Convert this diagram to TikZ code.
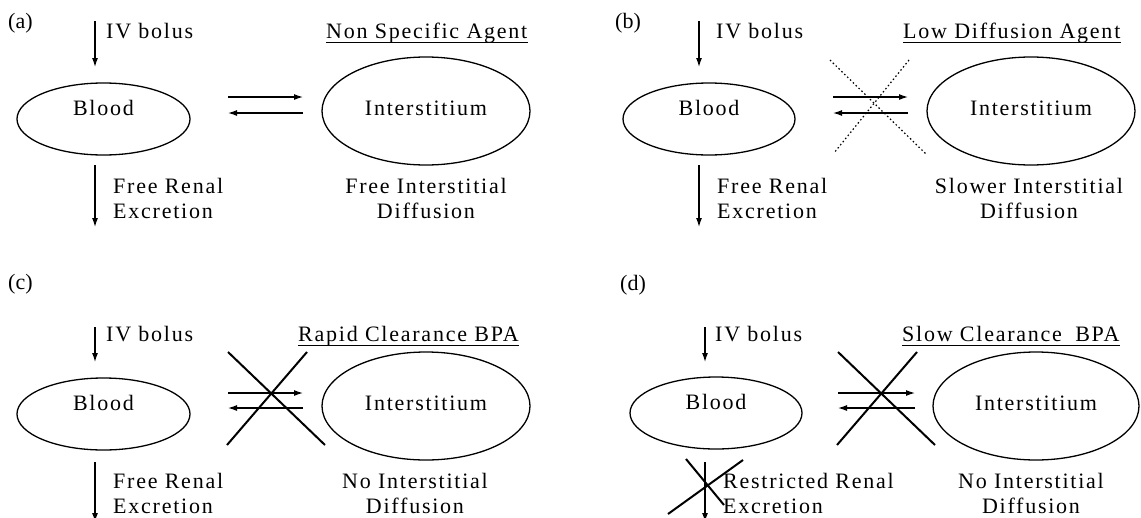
\documentclass[tikz,border=0pt]{standalone}
\usepackage{fontspec}
\setmainfont{Liberation Serif}[LetterSpace=8]
\newfontfamily\tagfont{Liberation Serif}
\usetikzlibrary{arrows.meta}
\usetikzlibrary{shapes}

\begin{document}
\begin{tikzpicture}[x = 1pt, y = -1pt]
\tikzstyle{PoolStyle}=[shape = ellipse,
                       draw,
                       line width = 1.3pt,
                       inner sep = 0pt,
                       text height = 15pt,
                       text depth = 7pt,
                       font = \fontsize{22}{25}\selectfont]
\tikzstyle{TextStyle}=[inner sep = 0pt,
                       font = \fontsize{22}{25}\selectfont]
\tikzstyle{HeadStyle}=[TextStyle, anchor = base west, text depth = 4pt]
\tikzstyle{TagStyle}=[inner sep = 0pt, anchor = base west,
                      font = \tagfont\fontsize{22}{25}\selectfont]
\tikzstyle{FlowStyle}=[line width = 1.2pt,
                       -{Latex[length = 9pt, width = 6pt]}]
\tikzstyle{BlockStyle}=[line width = 2pt]
\tikzstyle{DotStyle}=[line width = 1.2pt, dash pattern = on 1.5pt off 2.5pt]
\useasboundingbox (0,0) rectangle (1141,517);
% (a) non specific agent
\node[TagStyle] (ta) at (8,28) {(a)};
\node[PoolStyle, minimum width = 173pt, minimum height = 72pt, text depth = 23pt] (ba) at (103.5,119) {Blood};
\node[PoolStyle, minimum width = 208pt, minimum height = 108pt] (ia) at (426,111) {Interstitium};
\node[HeadStyle] (ha) at (326,38) {Non Specific Agent};
\draw[line width = 1pt] (ha.south west) -- (ha.south east);
\node[TextStyle, anchor = base west] (va) at (106,38) {IV bolus};
\node[TextStyle, anchor = north west, align = left] (ra) at (113,178) {Free Renal\\Excretion};
\node[TextStyle, anchor = north, align = center] (da) at (426,178) {Free Interstitial\\Diffusion};
\coordinate (pa1) at (95,21);
\coordinate (pa2) at (95,67);
\coordinate (qa1) at (95,165);
\coordinate (qa2) at (95,227);
\coordinate (fa1) at (228,97);
\coordinate (fa2) at (303,97);
\coordinate (ga1) at (303,113);
\coordinate (ga2) at (228,113);
\draw[FlowStyle] (pa1) -- (pa2);
\draw[FlowStyle] (qa1) -- (qa2);
\draw[FlowStyle] (fa1) -- (fa2);
\draw[FlowStyle] (ga1) -- (ga2);
% (b) low diffusion agent
\node[TagStyle] (tb) at (615,28) {(b)};
\node[PoolStyle, minimum width = 172pt, minimum height = 72pt, text depth = 23pt] (bb) at (709,119) {Blood};
\node[PoolStyle, minimum width = 208pt, minimum height = 108pt] (ib) at (1031,111) {Interstitium};
\node[HeadStyle] (hb) at (903,38) {Low Diffusion Agent};
\draw[line width = 1pt] (hb.south west) -- (hb.south east);
\node[TextStyle, anchor = base west] (vb) at (716,38) {IV bolus};
\node[TextStyle, anchor = north west, align = left] (rb) at (717,178) {Free Renal\\Excretion};
\node[TextStyle, anchor = north, align = center] (db) at (1029,178) {Slower Interstitial\\Diffusion};
\coordinate (pb1) at (699,21);
\coordinate (pb2) at (699,67);
\coordinate (qb1) at (699,165);
\coordinate (qb2) at (699,227);
\coordinate (fb1) at (833,97);
\coordinate (fb2) at (908,97);
\coordinate (gb1) at (908,113);
\coordinate (gb2) at (833,113);
\draw[FlowStyle] (pb1) -- (pb2);
\draw[FlowStyle] (qb1) -- (qb2);
\draw[FlowStyle] (fb1) -- (fb2);
\draw[FlowStyle] (gb1) -- (gb2);
\draw[DotStyle] (830,60) -- (927,155);
\draw[DotStyle] (909,60) -- (834,153);
% (c) rapid clearance
\node[TagStyle] (tc) at (8,289) {(c)};
\node[PoolStyle, minimum width = 173pt, minimum height = 72pt, text depth = 23pt] (bc) at (103.5,414) {Blood};
\node[PoolStyle, minimum width = 208pt, minimum height = 108pt] (ic) at (426,406) {Interstitium};
\node[HeadStyle] (hc) at (298,341) {Rapid Clearance BPA};
\draw[line width = 1pt] (hc.south west) -- (hc.south east);
\node[TextStyle, anchor = base west] (vc) at (106,341) {IV bolus};
\node[TextStyle, anchor = north west, align = left] (rc) at (113,473) {Free Renal\\Excretion};
\node[TextStyle, anchor = north, align = center] (dc) at (415,473) {No Interstitial\\Diffusion};
\coordinate (pc1) at (95,327);
\coordinate (pc2) at (95,362);
\coordinate (qc1) at (95,462);
\coordinate (qc2) at (95,522);
\coordinate (fc1) at (228,393);
\coordinate (fc2) at (303,393);
\coordinate (gc1) at (303,408);
\coordinate (gc2) at (228,408);
\draw[FlowStyle] (pc1) -- (pc2);
\draw[FlowStyle] (qc1) -- (qc2);
\draw[FlowStyle] (fc1) -- (fc2);
\draw[FlowStyle] (gc1) -- (gc2);
\draw[BlockStyle] (228,352) -- (325,445);
\draw[BlockStyle] (307,352) -- (227,445);
% (d) slow clearance
\node[TagStyle] (td) at (620,290) {(d)};
\node[PoolStyle, minimum width = 172pt, minimum height = 72pt, text depth = 23pt] (bd) at (716,413) {Blood};
\node[PoolStyle, minimum width = 206pt, minimum height = 108pt] (id) at (1036,406) {Interstitium};
\node[HeadStyle] (hd) at (902,341) {Slow Clearance\hspace{6pt} BPA};
\draw[line width = 1pt] (hd.south west) -- (hd.south east);
\node[TextStyle, anchor = base west] (vd) at (715,341) {IV bolus};
\node[TextStyle, anchor = north west, align = left] (rd) at (723,473) {Restricted Renal\\Excretion};
\node[TextStyle, anchor = north, align = center] (dd) at (1031,473) {No Interstitial\\Diffusion};
\coordinate (pd1) at (705,327);
\coordinate (pd2) at (705,362);
\coordinate (qd1) at (705,462);
\coordinate (qd2) at (705,522);
\coordinate (fd1) at (838,393);
\coordinate (fd2) at (915,393);
\coordinate (gd1) at (915,408);
\coordinate (gd2) at (838,408);
\draw[FlowStyle] (pd1) -- (pd2);
\draw[FlowStyle] (qd1) -- (qd2);
\draw[FlowStyle] (fd1) -- (fd2);
\draw[FlowStyle] (gd1) -- (gd2);
\draw[BlockStyle] (838,352) -- (935,445);
\draw[BlockStyle] (917,352) -- (837,445);
\draw[BlockStyle] (686,459) -- (724,505);
\draw[BlockStyle] (743,460) -- (668,514);
\end{tikzpicture}
\end{document}
